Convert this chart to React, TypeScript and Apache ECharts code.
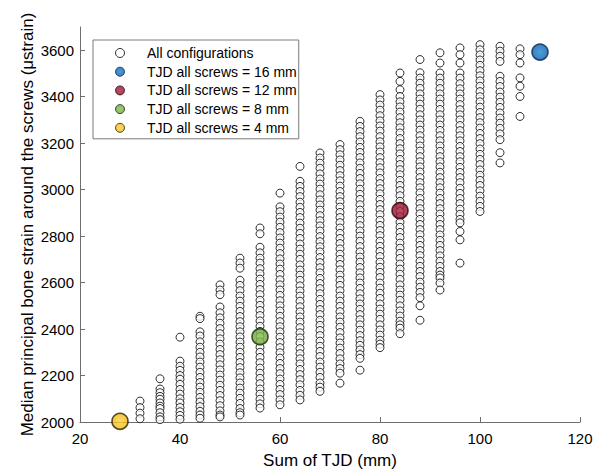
import React, { useEffect, useRef } from "react";
import * as echarts from "echarts";

// Sum of TJD (mm) for each column of configurations
const columnX = [32, 36, 40, 44, 48, 52, 56, 60, 64, 68, 72, 76, 80, 84, 88, 92, 96, 100, 104, 108];

// Median principal bone strain (µstrain) read per column
const c32 = [2090, 2062, 2038, 2014];
const c36 = [2186, 2142, 2126, 2110, 2098, 2082, 2068, 2058, 2040, 2022, 2010];
const c40 = [2365, 2262, 2240, 2222, 2200, 2184, 2162, 2140, 2120, 2100, 2082, 2062, 2044, 2028, 2012];
const c44 = [2455, 2445, 2388, 2370, 2345, 2322, 2300, 2280, 2258, 2236, 2214, 2192, 2170, 2150, 2128, 2106, 2086, 2066, 2046, 2030, 2016];
const c48 = [2590, 2568, 2548, 2495, 2470, 2448, 2425, 2402, 2380, 2358, 2335, 2312, 2290, 2268, 2246, 2224, 2202, 2180, 2158, 2136, 2114, 2092, 2070, 2048, 2030, 2022];
const c52 = [2705, 2684, 2662, 2610, 2588, 2565, 2542, 2520, 2498, 2476, 2454, 2432, 2410, 2388, 2366, 2344, 2322, 2300, 2278, 2256, 2234, 2212, 2190, 2168, 2146, 2124, 2102, 2080, 2058, 2040, 2030];
const c56 = [2835, 2810, 2752, 2728, 2705, 2684, 2660, 2638, 2615, 2592, 2570, 2548, 2524, 2502, 2480, 2458, 2435, 2412, 2390, 2368, 2345, 2322, 2300, 2278, 2255, 2232, 2210, 2188, 2165, 2142, 2120, 2098, 2078, 2060];
const c60 = [2985, 2926, 2905, 2882, 2860, 2838, 2815, 2792, 2770, 2748, 2725, 2702, 2680, 2658, 2635, 2612, 2590, 2568, 2545, 2522, 2500, 2478, 2455, 2432, 2410, 2388, 2365, 2342, 2320, 2298, 2275, 2252, 2230, 2208, 2185, 2162, 2140, 2118, 2095, 2074];
const c64 = [3100, 3036, 3014, 2992, 2970, 2946, 2924, 2902, 2880, 2856, 2834, 2812, 2790, 2766, 2744, 2722, 2700, 2676, 2654, 2632, 2610, 2586, 2564, 2542, 2520, 2496, 2474, 2452, 2430, 2406, 2384, 2362, 2340, 2316, 2294, 2272, 2250, 2226, 2204, 2182, 2160, 2136, 2115, 2095];
const c68 = [3158, 3136, 3114, 3092, 3068, 3046, 3024, 3002, 2978, 2956, 2934, 2912, 2888, 2866, 2844, 2822, 2798, 2776, 2754, 2732, 2708, 2686, 2664, 2642, 2618, 2596, 2574, 2552, 2528, 2506, 2484, 2462, 2438, 2416, 2394, 2372, 2348, 2326, 2304, 2282, 2258, 2236, 2214, 2192, 2168, 2150, 2132];
const c72 = [3194, 3172, 3150, 3128, 3105, 3082, 3060, 3038, 3015, 2992, 2970, 2948, 2925, 2902, 2880, 2858, 2835, 2812, 2790, 2768, 2745, 2722, 2700, 2678, 2655, 2632, 2610, 2588, 2565, 2542, 2520, 2498, 2475, 2452, 2430, 2408, 2385, 2362, 2340, 2318, 2295, 2272, 2250, 2230, 2210, 2167];
const c76 = [3294, 3272, 3250, 3228, 3205, 3182, 3160, 3138, 3115, 3092, 3070, 3048, 3025, 3002, 2980, 2958, 2935, 2912, 2890, 2868, 2845, 2822, 2800, 2778, 2755, 2732, 2710, 2688, 2665, 2642, 2620, 2598, 2575, 2552, 2530, 2508, 2485, 2462, 2440, 2418, 2395, 2372, 2350, 2330, 2310, 2290, 2274, 2223];
const c80 = [3409, 3386, 3364, 3342, 3318, 3296, 3274, 3252, 3228, 3206, 3184, 3162, 3138, 3116, 3094, 3072, 3048, 3026, 3004, 2982, 2958, 2936, 2914, 2892, 2868, 2846, 2824, 2802, 2778, 2756, 2734, 2712, 2688, 2666, 2644, 2622, 2598, 2576, 2554, 2532, 2508, 2486, 2464, 2442, 2418, 2396, 2374, 2352, 2335, 2320];
const c84 = [3502, 3466, 3430, 3401, 3378, 3356, 3334, 3310, 3288, 3266, 3244, 3220, 3198, 3176, 3154, 3130, 3108, 3086, 3064, 3040, 3018, 2996, 2974, 2950, 2928, 2906, 2884, 2860, 2838, 2816, 2794, 2770, 2748, 2726, 2704, 2680, 2658, 2636, 2614, 2590, 2568, 2546, 2524, 2500, 2478, 2456, 2434, 2418, 2404, 2380];
const c88 = [3560, 3503, 3480, 3458, 3436, 3412, 3390, 3368, 3346, 3322, 3300, 3278, 3256, 3232, 3210, 3188, 3166, 3142, 3120, 3098, 3076, 3052, 3030, 3008, 2986, 2962, 2940, 2918, 2896, 2872, 2850, 2828, 2806, 2782, 2760, 2738, 2716, 2692, 2670, 2648, 2626, 2602, 2580, 2558, 2535, 2500, 2438];
const c92 = [3589, 3545, 3502, 3480, 3458, 3435, 3412, 3390, 3368, 3345, 3322, 3300, 3278, 3255, 3232, 3210, 3188, 3165, 3142, 3120, 3098, 3075, 3052, 3030, 3008, 2985, 2962, 2940, 2918, 2895, 2872, 2850, 2828, 2805, 2782, 2760, 2738, 2715, 2692, 2670, 2648, 2632, 2620, 2598, 2568];
const c96 = [3610, 3581, 3545, 3502, 3480, 3456, 3434, 3412, 3390, 3366, 3344, 3322, 3300, 3276, 3254, 3232, 3210, 3186, 3164, 3142, 3120, 3096, 3074, 3052, 3030, 3006, 2984, 2962, 2940, 2916, 2894, 2872, 2857, 2820, 2784, 2684];
const c100 = [3624, 3602, 3580, 3558, 3535, 3512, 3490, 3468, 3445, 3422, 3400, 3378, 3355, 3332, 3310, 3288, 3265, 3242, 3220, 3198, 3175, 3152, 3130, 3108, 3085, 3062, 3040, 3018, 2995, 2972, 2950, 2928, 2906];
const c104 = [3617, 3596, 3574, 3552, 3488, 3466, 3444, 3420, 3398, 3376, 3354, 3330, 3308, 3286, 3264, 3240, 3215, 3159, 3115];
const c108 = [3606, 3581, 3545, 3481, 3445, 3401, 3315];
const columnValues = [c32, c36, c40, c44, c48, c52, c56, c60, c64, c68, c72, c76, c80, c84, c88, c92, c96, c100, c104, c108];

// Highlighted configurations [Sum of TJD, strain]
const tjd16 = [112, 3592];
const tjd12 = [84, 2910];
const tjd8 = [56, 2367];
const tjd4 = [28, 2003];

const xTicks = [20, 40, 60, 80, 100, 120];
const yTicks = [2000, 2200, 2400, 2600, 2800, 3000, 3200, 3400, 3600];

const seriesNames = [
  "All configurations",
  "TJD all screws = 16 mm",
  "TJD all screws = 12 mm",
  "TJD all screws = 8 mm",
  "TJD all screws = 4 mm",
];

const FONT = "'Liberation Sans', Arial, Helvetica, sans-serif";

function radial(inner: string, outer: string) {
  return new echarts.graphic.RadialGradient(0.5, 0.5, 0.5, [
    { offset: 0, color: inner },
    { offset: 1, color: outer },
  ]);
}

export default function App() {
  const ref = useRef<HTMLDivElement>(null);
  useEffect(() => {
    if (!ref.current) return;
    const chart = echarts.init(ref.current, null, { renderer: "svg" });
    const allData: number[][] = [];
    columnX.forEach((x, i) => {
      columnValues[i].forEach((v) => allData.push([x, v]));
    });
    const axisColor = "#6e6e6e";
    const highlight = (name: string, pt: number[], inner: string, outer: string, border: string) => ({
      name,
      type: "scatter",
      data: [pt],
      symbol: "circle",
      symbolSize: 16,
      itemStyle: { color: radial(inner, outer), borderColor: border, borderWidth: 1.6 },
      z: 3,
    });
    chart.setOption({
      animation: false,
      backgroundColor: "#fff",
      textStyle: { fontFamily: FONT },
      grid: { left: 80, right: 20, top: 27, bottom: 49, outerBoundsMode: "none", containLabel: false },
      xAxis: {
        type: "value",
        min: 20,
        max: 120,
        interval: 20,
        name: "Sum of TJD (mm)",
        nameLocation: "middle",
        nameGap: 30,
        nameMoveOverlap: false,
        nameTextStyle: { fontSize: 17, color: "#000", fontFamily: FONT },
        axisLine: { show: true, lineStyle: { color: axisColor, width: 1 } },
        axisTick: { show: true, inside: true, length: 5, lineStyle: { color: axisColor } },
        axisLabel: { fontSize: 15, color: "#000", margin: 9, fontFamily: FONT, customValues: xTicks, formatter: (v: number) => String(v) },
        splitLine: { show: false },
      },
      yAxis: {
        type: "value",
        min: 2000,
        max: 3700,
        interval: 200,
        name: "Median principal bone strain around the screws (\u03bcstrain)",
        nameLocation: "middle",
        nameGap: 44,
        nameMoveOverlap: false,
        nameTextStyle: { fontSize: 17, color: "#000", fontFamily: FONT },
        axisLine: { show: true, lineStyle: { color: axisColor, width: 1 } },
        axisTick: { show: true, inside: true, length: 5, lineStyle: { color: axisColor }, customValues: yTicks },
        axisLabel: { fontSize: 15, color: "#000", margin: 6, fontFamily: FONT, customValues: yTicks, formatter: (v: number) => String(v) },
        splitLine: { show: false },
      },
      legend: {
        show: true,
        orient: "vertical",
        left: 93,
        top: 40,
        padding: [6, 2, 4, 22],
        itemGap: 4.7,
        itemWidth: 44,
        itemHeight: 9,
        selectedMode: false,
        borderColor: "#7a7a7a",
        borderWidth: 1,
        backgroundColor: "#fff",
        itemStyle: { borderWidth: 1 },
        textStyle: { fontSize: 14, color: "#000", fontFamily: FONT },
        data: seriesNames,
      },
      series: [
        {
          name: seriesNames[0],
          type: "scatter",
          data: allData,
          symbol: "circle",
          symbolSize: 8,
          itemStyle: { color: "#fff", borderColor: "#000", borderWidth: 1 },
          z: 2,
        },
        highlight(seriesNames[1], tjd16, "#1a86d6", "#0a5fae", "#0a2750"),
        highlight(seriesNames[2], tjd12, "#b4203f", "#8e1030", "#2a0a10"),
        highlight(seriesNames[3], tjd8, "#8cc253", "#6aa33a", "#1e2a10"),
        highlight(seriesNames[4], tjd4, "#ffd23a", "#f0b812", "#2a2208"),
      ],
    });
    return () => chart.dispose();
  }, []);
  return (
    <div
      ref={ref}
      style={{ position: "absolute", left: 0, top: 0, width: 600, height: 471, background: "#fff" }}
    />
  );
}
